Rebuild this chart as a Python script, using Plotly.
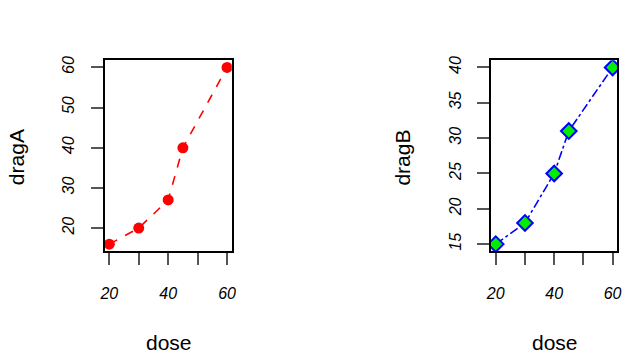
import plotly.graph_objects as go

dose = [20, 30, 40, 45, 60]
dragA = [16, 20, 27, 40, 60]
dragB = [15, 18, 25, 31, 40]

x_ticks = [20, 30, 40, 50, 60]
x_ticktext = ["20", "", "40", "", "60"]
yA_ticks = [20, 30, 40, 50, 60]
yB_ticks = [15, 20, 25, 30, 35, 40]

fig = go.Figure()
fig.add_trace(go.Scatter(x=dose, y=dragA, mode="lines+markers",
                         line=dict(color="red", dash="dash", width=1.6),
                         marker=dict(symbol="circle", size=11, color="red"),
                         xaxis="x", yaxis="y", showlegend=False))
fig.add_trace(go.Scatter(x=dose, y=dragB, mode="lines+markers",
                         line=dict(color="blue", dash="dashdot", width=1.6),
                         marker=dict(symbol="diamond", size=12, color="#00ee00",
                                     line=dict(color="blue", width=2)),
                         xaxis="x2", yaxis="y2", showlegend=False))

tickfont = dict(family="Liberation Sans, Arial", size=16, color="black", style="italic")
common_x = dict(tickvals=x_ticks, ticktext=x_ticktext, range=[18.4, 61.6],
                showline=True, mirror=True, linecolor="black", linewidth=1.5,
                ticks="outside", ticklen=12, tickcolor="#555", tickwidth=1.5,
                showgrid=False, zeroline=False, tickfont=tickfont,
                ticklabelstandoff=15)
common_y = dict(showline=True, mirror=True, linecolor="black", linewidth=1.5,
                ticks="outside", ticklen=12, tickcolor="#555", tickwidth=1.5,
                showgrid=False, zeroline=False, tickfont=tickfont, tickangle=-90,
                ticklabelstandoff=10)

fig.update_layout(
    width=640, height=361,
    margin=dict(l=0, r=0, t=0, b=0),
    paper_bgcolor="white", plot_bgcolor="white",
    xaxis=dict(domain=[101/640, 230/640], anchor="y", **common_x),
    yaxis=dict(domain=[(361-250)/361, (361-57)/361], anchor="x",
               tickvals=yA_ticks, range=[14.24, 61.76], **common_y),
    xaxis2=dict(domain=[493/640, 621/640], anchor="y2", **common_x),
    yaxis2=dict(domain=[(361-250)/361, (361-57)/361], anchor="x2",
                tickvals=yB_ticks, range=[14, 41], **common_y),
)

titlefont = dict(family="Liberation Sans, Arial", size=21, color="black")
for xc, label in [(166, "dose"), (558, "dose")]:
    fig.add_annotation(x=xc/640, y=(361-342)/361, xref="paper", yref="paper",
                       text=label, showarrow=False, font=titlefont,
                       xanchor="center", yanchor="middle")
for xc, label in [(11, "dragA"), (403, "dragB")]:
    fig.add_annotation(x=xc/640, y=(361-155)/361, xref="paper", yref="paper",
                       text=label, showarrow=False, font=titlefont, textangle=-90,
                       xanchor="center", yanchor="middle")

fig.write_html("out.html", config={"displayModeBar": False},
               post_script="document.body.style.margin='0';document.body.style.padding='0';")
